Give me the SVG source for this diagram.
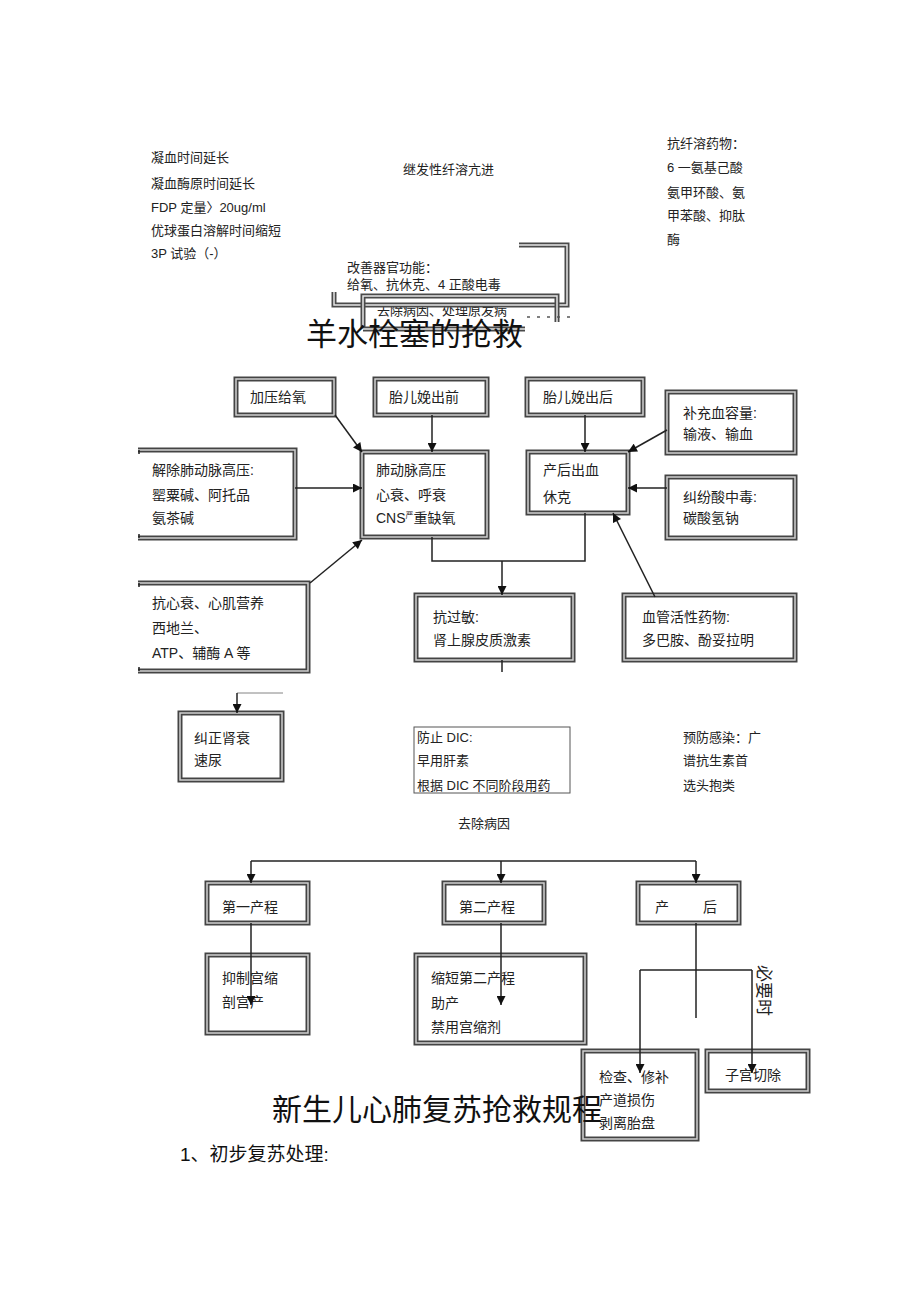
<svg xmlns="http://www.w3.org/2000/svg" width="920" height="1303" viewBox="0 0 920 1303">
<style>
text{font-family:"Liberation Sans","Noto Sans CJK SC",sans-serif;fill:#222}
.t13{font-size:13px}
.t14{font-size:14px}
.bo{fill:#fff;stroke:#444;stroke-width:5}
.bi{fill:none;stroke:#cfcfcf;stroke-width:1.5}
.do{fill:none;stroke:#4a4a4a;stroke-width:5}
.di{fill:none;stroke:#e6e6e6;stroke-width:1.5}
.ln{fill:none;stroke:#222;stroke-width:1.5}
.ar{fill:none;stroke:#222;stroke-width:1.5;marker-end:url(#ah)}
</style>
<defs>
<marker id="ah" viewBox="0 0 10 10" refX="10" refY="5" markerWidth="10" markerHeight="9" markerUnits="userSpaceOnUse" orient="auto">
<path d="M0,0 L10,5 L0,10 z" fill="#111"/>
</marker>
</defs>
<rect width="920" height="1303" fill="#fff"/>

<g id="top-notes">
<text class="t13" x="151" y="162">凝血时间延长</text>
<text class="t13" x="151" y="188">凝血酶原时间延长</text>
<text class="t13" x="151" y="212">FDP 定量〉20ug/ml</text>
<text class="t13" x="151" y="235">优球蛋白溶解时间缩短</text>
<text class="t13" x="151" y="258">3P 试验（-）</text>
<text class="t13" x="403" y="174">继发性纤溶亢进</text>
<text class="t13" x="667" y="148">抗纤溶药物：</text>
<text class="t13" x="667" y="172">6 一氨基己酸</text>
<text class="t13" x="667" y="197">氨甲环酸、氨</text>
<text class="t13" x="667" y="220">甲苯酸、抑肽</text>
<text class="t13" x="667" y="244">酶</text>
</g>

<g id="tangle">
<text class="t13" x="347" y="272">改善器官功能：</text>
<text class="t13" x="347" y="289">给氧、抗休克、4 正酸电毒</text>
<text class="t13" x="377" y="315">去除病因、处理原发病</text>
<path class="do" d="M519,245 H567 V305 H334 V292"/>
<path class="di" d="M519,245 H567 V305 H334 V292"/>
<path class="do" d="M363,329 V296 H557 V322"/>
<path class="di" d="M363,329 V296 H557 V322"/>
<path class="do" d="M363,329 H525"/>
<path class="di" d="M363,329 H525"/>
<path d="M527,317 H575" stroke="#555" stroke-width="1.5" stroke-dasharray="3,7" fill="none"/>
</g>

<g id="title1">
<text x="306" y="345" font-size="31" style="fill:#111">羊水栓塞的抢救</text>
</g>

<g id="n-jiaya"><rect class="bo" x="236" y="379" width="98" height="36"/><rect class="bi" x="236" y="379" width="98" height="36"/><text class="t14" x="250" y="402">加压给氧</text></g>
<g id="n-qian"><rect class="bo" x="375" y="379" width="112" height="36"/><rect class="bi" x="375" y="379" width="112" height="36"/><text class="t14" x="389" y="402">胎儿娩出前</text></g>
<g id="n-hou"><rect class="bo" x="527" y="379" width="116" height="36"/><rect class="bi" x="527" y="379" width="116" height="36"/><text class="t14" x="543" y="402">胎儿娩出后</text></g>
<g id="n-buchong"><rect class="bo" x="667" y="392" width="128" height="61"/><rect class="bi" x="667" y="392" width="128" height="61"/><text class="t14" x="683" y="418">补充血容量:</text><text class="t14" x="683" y="439">输液、输血</text></g>
<g id="n-jiechu"><path class="bo" d="M138,450 H295 V538 H138"/><path class="bi" d="M138,450 H295 V538 H138"/><path class="ln" d="M139,450 V454 M139,538 V534"/><text class="t14" x="152" y="475">解除肺动脉高压:</text><text class="t14" x="152" y="500">罂粟碱、阿托品</text><text class="t14" x="152" y="523">氨茶碱</text></g>
<g id="n-fei"><rect class="bo" x="362" y="452" width="125" height="85"/><rect class="bi" x="362" y="452" width="125" height="85"/><text class="t14" x="376" y="475">肺动脉高压</text><text class="t14" x="376" y="500">心衰、呼衰</text><text class="t14" x="376" y="523">CNS<tspan font-size="8" dy="-5">严</tspan><tspan dy="5">重缺氧</tspan></text></g>
<g id="n-chanhou"><rect class="bo" x="528" y="452" width="100" height="61"/><rect class="bi" x="528" y="452" width="100" height="61"/><text class="t14" x="543" y="475">产后出血</text><text class="t14" x="543" y="502">休克</text></g>
<g id="n-jiufen"><rect class="bo" x="667" y="477" width="128" height="61"/><rect class="bi" x="667" y="477" width="128" height="61"/><text class="t14" x="683" y="502">纠纷酸中毒:</text><text class="t14" x="683" y="523">碳酸氢钠</text></g>
<g id="n-kangxin"><path class="bo" d="M138,583 H308 V671 H138"/><path class="bi" d="M138,583 H308 V671 H138"/><path class="ln" d="M139,583 V587 M139,671 V667"/><text class="t14" x="152" y="608">抗心衰、心肌营养</text><text class="t14" x="152" y="633">西地兰、</text><text class="t14" x="152" y="658">ATP、辅酶  A 等</text></g>
<g id="n-kangguo"><rect class="bo" x="416" y="595" width="157" height="65"/><rect class="bi" x="416" y="595" width="157" height="65"/><text class="t14" x="433" y="622">抗过敏:</text><text class="t14" x="433" y="645">肾上腺皮质激素</text></g>
<g id="n-xueguan"><rect class="bo" x="624" y="595" width="171" height="65"/><rect class="bi" x="624" y="595" width="171" height="65"/><text class="t14" x="642" y="622">血管活性药物:</text><text class="t14" x="642" y="645">多巴胺、酚妥拉明</text></g>
<g id="n-shen"><rect class="bo" x="180" y="713" width="102" height="67"/><rect class="bi" x="180" y="713" width="102" height="67"/><text class="t14" x="194" y="743">纠正肾衰</text><text class="t14" x="194" y="765">速尿</text></g>
<g id="n-dic"><rect x="414" y="727" width="156" height="66" fill="#fff" stroke="#555" stroke-width="1"/><text class="t13" x="417" y="742">防止 DIC:</text><text class="t13" x="417" y="765">早用肝素</text><text class="t13" x="417" y="790">根据 DIC 不同阶段用药</text></g>
<g id="n-ganran"><text class="t13" x="683" y="742">预防感染：广</text><text class="t13" x="683" y="765">谱抗生素首</text><text class="t13" x="683" y="790">选头抱类</text></g>
<g id="n-quchu"><text class="t13" x="458" y="828">去除病因</text></g>

<g id="n-di1"><rect class="bo" x="207" y="883" width="101" height="40"/><rect class="bi" x="207" y="883" width="101" height="40"/><text class="t14" x="222" y="912">第一产程</text></g>
<g id="n-di2"><rect class="bo" x="444" y="883" width="100" height="40"/><rect class="bi" x="444" y="883" width="100" height="40"/><text class="t14" x="459" y="912">第二产程</text></g>
<g id="n-chh"><rect class="bo" x="638" y="883" width="101" height="40"/><rect class="bi" x="638" y="883" width="101" height="40"/><text class="t14" x="655" y="912">产</text><text class="t14" x="703" y="912">后</text></g>
<g id="n-yizhi"><rect class="bo" x="207" y="955" width="101" height="78"/><rect class="bi" x="207" y="955" width="101" height="78"/><text class="t14" x="222" y="983">抑制宫缩</text><text class="t14" x="222" y="1007">剖宫产</text></g>
<g id="n-suoduan"><rect class="bo" x="416" y="955" width="169" height="88"/><rect class="bi" x="416" y="955" width="169" height="88"/><text class="t14" x="431" y="983">缩短第二产程</text><text class="t14" x="431" y="1008">助产</text><text class="t14" x="431" y="1032">禁用宫缩剂</text></g>
<g id="n-jiancha"><rect class="bo" x="583" y="1051" width="114" height="88"/><rect class="bi" x="583" y="1051" width="114" height="88"/><text class="t14" x="599" y="1082">检查、修补</text><text class="t14" x="599" y="1105">产道损伤</text><text class="t14" x="599" y="1128">剥离胎盘</text></g>
<g id="n-zigong"><rect class="bo" x="707" y="1051" width="101" height="40"/><rect class="bi" x="707" y="1051" width="101" height="40"/><text class="t14" x="725" y="1080">子宫切除</text></g>
<g id="n-biyao"><text transform="translate(758,965) rotate(90)" style="font-size:17px">必要时</text></g>

<g id="connectors">
<path class="ar" d="M335,415 L362,452"/>
<path class="ar" d="M432,415 V452"/>
<path class="ar" d="M295,488 H362"/>
<path class="ar" d="M310,583 L362,540"/>
<path class="ar" d="M585,415 V452"/>
<path class="ar" d="M667,430 L628,452"/>
<path class="ar" d="M667,488 H628"/>
<path class="ar" d="M655,597 L613,513"/>
<path class="ln" d="M432,537 V561 H585 V513"/>
<path class="ar" d="M502,561 V595"/>
<path class="ln" d="M502,660 V672"/>
<path d="M237,693 H283" stroke="#666" stroke-width="0.8" fill="none"/>
<path class="ar" d="M237,693 V713"/>
<path class="ln" d="M251,861 H696"/>
<path class="ar" d="M251,861 V883"/>
<path class="ar" d="M501,861 V883"/>
<path class="ar" d="M696,861 V883"/>
<path class="ar" d="M251,923 V1005"/>
<path class="ar" d="M501,923 V1005"/>
<path class="ln" d="M696,923 V1018"/>
<path class="ln" d="M640,970 H752"/>
<path class="ar" d="M640,970 V1073"/>
<path class="ar" d="M752,970 V1073"/>
</g>

<g id="title2">
<text x="272" y="1120" font-size="30" style="fill:#111">新生儿心肺复苏抢救规程</text>
<text x="180" y="1161" font-size="19" style="fill:#111">1、初步复苏处理:</text>
</g>
</svg>
